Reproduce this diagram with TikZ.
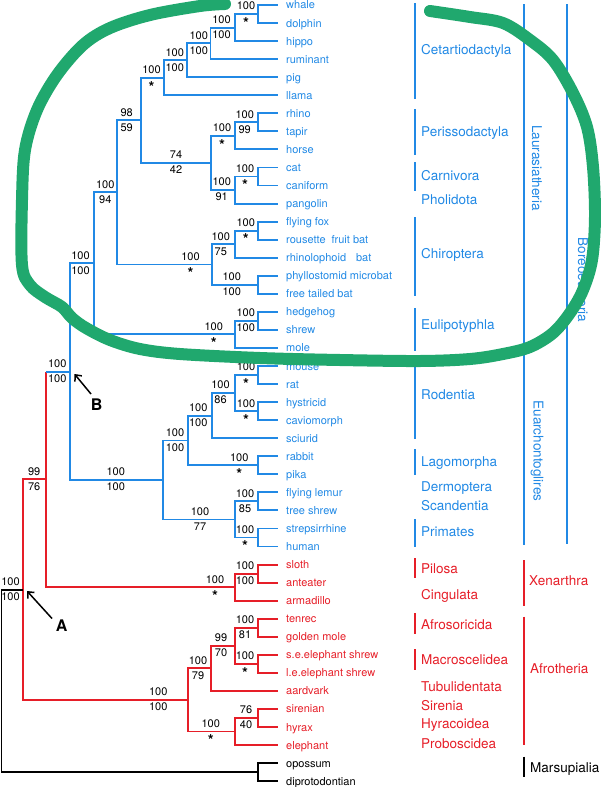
\documentclass[tikz,border=0pt]{standalone}
\usepackage{fontspec}
\setmainfont{TeX Gyre Heros}
\usetikzlibrary{arrows.meta}
\definecolor{tblue}{RGB}{33,137,229}
\definecolor{tred}{RGB}{230,30,40}
\definecolor{tgreen}{RGB}{32,168,110}
\newcommand\nlab[5]{%
  \node[num] (#1t) at (#2,#3-4.1) {#4};
  \node[num] (#1b) at (#2,#3+10.9) {#5};}
\newcommand\slab[4]{%
  \node[num] (#1t) at (#2,#3-4.1) {#4};
  \node[starlab] (#1b) at (#2,#3+14.2) {*};}
\begin{document}
\begin{tikzpicture}[x=1pt,y=-1pt,
  br/.style={line width=1.9pt},
  bar/.style={line width=1.8pt},
  leaf/.style={anchor=west,inner sep=0pt,inner xsep=8pt,font=\fontsize{11}{13}\selectfont,text height=8pt,text depth=0pt},
  num/.style={anchor=base,inner sep=0pt,font=\fontsize{11}{13}\selectfont},
  starlab/.style={anchor=base,inner sep=0pt,font=\fontsize{15}{17}\selectfont\bfseries},
  grp/.style={anchor=west,inner sep=0pt,font=\fontsize{13.5}{15}\selectfont,text height=9.5pt,text depth=0pt},
  rgrp/.style={anchor=center,inner sep=0pt,rotate=-90,font=\fontsize{13.5}{15}\selectfont},
  letter/.style={anchor=center,inner sep=0pt,font=\fontsize{16}{18}\selectfont\bfseries},
  ptr/.style={line width=1.5pt,-{Straight Barb[length=5pt,width=9pt]}}]
\useasboundingbox (0,0) rectangle (600,787);

% ---------- leaves ----------
\begin{scope}[every node/.style={leaf,text=tblue}]
\node (whale) at (278,5.0) {whale};
\node (dolphin) at (278,23.05) {dolphin};
\node (hippo) at (278,41.1) {hippo};
\node (ruminant) at (278,59.15) {ruminant};
\node (pig) at (278,77.2) {pig};
\node (llama) at (278,95.25) {llama};
\node (rhino) at (278,113.3) {rhino};
\node (tapir) at (278,131.35) {tapir};
\node (horse) at (278,149.4) {horse};
\node (cat) at (278,167.45) {cat};
\node (caniform) at (278,185.5) {caniform};
\node (pangolin) at (278,203.55) {pangolin};
\node (ffox) at (278,221.6) {flying fox};
\node (rousette) at (278,239.65) {rousette\hspace{6pt}fruit bat};
\node (rhinolo) at (278,257.7) {rhinolophoid\hspace{10pt}bat};
\node (phyllo) at (278,275.75) {phyllostomid microbat};
\node (freet) at (278,293.8) {free tailed bat};
\node (hedgehog) at (278,311.85) {hedgehog};
\node (shrew) at (278,329.9) {shrew};
\node (mole) at (278,347.95) {mole};
\node (mouse) at (278,366.0) {mouse};
\node (rat) at (278,384.05) {rat};
\node (hystricid) at (278,402.1) {hystricid};
\node (cavio) at (278,420.15) {caviomorph};
\node (sciurid) at (278,438.2) {sciurid};
\node (rabbit) at (278,456.25) {rabbit};
\node (pika) at (278,474.3) {pika};
\node (flemur) at (278,492.35) {flying lemur};
\node (tshrew) at (278,510.4) {tree shrew};
\node (streps) at (278,528.45) {strepsirrhine};
\node (human) at (278,546.5) {human};
\end{scope}
\begin{scope}[every node/.style={leaf,text=tred}]
\node (sloth) at (278,564.55) {sloth};
\node (anteater) at (278,582.6) {anteater};
\node (armadillo) at (278,600.65) {armadillo};
\node (tenrec) at (278,618.7) {tenrec};
\node (gmole) at (278,636.75) {golden mole};
\node (seshrew) at (278,654.8) {s.e.elephant shrew};
\node (leshrew) at (278,672.85) {l.e.elephant shrew};
\node (aardvark) at (278,690.9) {aardvark};
\node (sirenian) at (278,708.95) {sirenian};
\node (hyrax) at (278,727.0) {hyrax};
\node (elephant) at (278,745.05) {elephant};
\end{scope}
\begin{scope}[every node/.style={leaf,text=black}]
\node (opossum) at (278,763.1) {opossum};
\node (diproto) at (278,781.15) {diprotodontian};
\end{scope}

% ---------- internal nodes ----------
\coordinate (n1) at (258,14.0);
\coordinate (n2) at (235,27.55);
\coordinate (n3) at (210.5,43.35);
\coordinate (n4) at (187.3,60.3);
\coordinate (n5) at (164,77.8);
\coordinate (n6) at (258,122.3);
\coordinate (n7) at (235,135.85);
\coordinate (n8) at (258,176.5);
\coordinate (n9) at (235,190.0);
\coordinate (n10) at (210.7,162.9);
\coordinate (n11) at (140.7,120.35);
\coordinate (n12) at (258,230.6);
\coordinate (n13) at (235,244.15);
\coordinate (n14) at (258,284.8);
\coordinate (n15) at (211.7,264.5);
\coordinate (n16) at (116.7,192.4);
\coordinate (n17) at (258,320.9);
\coordinate (n18) at (235,334.4);
\coordinate (n19) at (94,263.4);
\coordinate (n20) at (258,375.0);
\coordinate (n21) at (258,411.1);
\coordinate (n22) at (235,393.05);
\coordinate (n23) at (211.7,415.6);
\coordinate (n24) at (258,465.3);
\coordinate (n25) at (188.3,440.45);
\coordinate (n26) at (258,501.4);
\coordinate (n27) at (258,537.5);
\coordinate (n28) at (235,519.45);
\coordinate (n29) at (163.3,479.95);
\coordinate (n30) at (70,371.7);
\coordinate (n31) at (258,573.6);
\coordinate (n32) at (235,587.1);
\coordinate (n33) at (46,479.4);
\coordinate (n34) at (258,627.7);
\coordinate (n35) at (258,663.8);
\coordinate (n36) at (235,645.75);
\coordinate (n37) at (210.7,668.3);
\coordinate (n38) at (258,718.0);
\coordinate (n39) at (235,731.5);
\coordinate (n40) at (187.7,699.9);
\coordinate (n41) at (22.7,589.65);
\coordinate (n42) at (258,772.1);
\coordinate (root) at (1.5,680.9);

% ---------- blue branches ----------
\begin{scope}[br,tblue]
\draw (n1) |- (whale.west); \draw (n1) |- (dolphin.west);
\draw (n2) |- (n1); \draw (n2) |- (hippo.west);
\draw (n3) |- (n2); \draw (n3) |- (ruminant.west);
\draw (n4) |- (n3); \draw (n4) |- (pig.west);
\draw (n5) |- (n4); \draw (n5) |- (llama.west);
\draw (n6) |- (rhino.west); \draw (n6) |- (tapir.west);
\draw (n7) |- (n6); \draw (n7) |- (horse.west);
\draw (n8) |- (cat.west); \draw (n8) |- (caniform.west);
\draw (n9) |- (n8); \draw (n9) |- (pangolin.west);
\draw (n10) |- (n7); \draw (n10) |- (n9);
\draw (n11) |- (n5); \draw (n11) |- (n10);
\draw (n12) |- (ffox.west); \draw (n12) |- (rousette.west);
\draw (n13) |- (n12); \draw (n13) |- (rhinolo.west);
\draw (n14) |- (phyllo.west); \draw (n14) |- (freet.west);
\draw (n15) |- (n13); \draw (n15) |- (n14);
\draw (n16) |- (n11); \draw (n16) |- (n15);
\draw (n17) |- (hedgehog.west); \draw (n17) |- (shrew.west);
\draw (n18) |- (n17); \draw (n18) |- (mole.west);
\draw (n19) |- (n16); \draw (n19) |- (n18);
\draw (n20) |- (mouse.west); \draw (n20) |- (rat.west);
\draw (n21) |- (hystricid.west); \draw (n21) |- (cavio.west);
\draw (n22) |- (n20); \draw (n22) |- (n21);
\draw (n23) |- (n22); \draw (n23) |- (sciurid.west);
\draw (n24) |- (rabbit.west); \draw (n24) |- (pika.west);
\draw (n25) |- (n23); \draw (n25) |- (n24);
\draw (n26) |- (flemur.west); \draw (n26) |- (tshrew.west);
\draw (n27) |- (streps.west); \draw (n27) |- (human.west);
\draw (n28) |- (n26); \draw (n28) |- (n27);
\draw (n29) |- (n25); \draw (n29) |- (n28);
\draw (n30) |- (n19); \draw (n30) |- (n29);
\end{scope}

% ---------- red branches ----------
\begin{scope}[br,tred]
\draw (n31) |- (sloth.west); \draw (n31) |- (anteater.west);
\draw (n32) |- (n31); \draw (n32) |- (armadillo.west);
\draw (n33) -- (n33 |- n30);
\draw (n33) |- (n32);
\draw (n34) |- (tenrec.west); \draw (n34) |- (gmole.west);
\draw (n35) |- (seshrew.west); \draw (n35) |- (leshrew.west);
\draw (n36) |- (n34); \draw (n36) |- (n35);
\draw (n37) |- (n36); \draw (n37) |- (aardvark.west);
\draw (n38) |- (sirenian.west); \draw (n38) |- (hyrax.west);
\draw (n39) |- (n38); \draw (n39) |- (elephant.west);
\draw (n40) |- (n37); \draw (n40) |- (n39);
\draw (n41) |- (n33); \draw (n41) |- (n40);
\end{scope}
\draw[br,tblue] (n33 |- n30) -- (n30);

% ---------- black branches ----------
\begin{scope}[br,black]
\draw (root) |- (n41); \draw (root) |- (n42);
\draw (n42) |- (opossum.west); \draw (n42) |- (diproto.west);
\end{scope}

% ---------- support values ----------
\slab{n1}{246}{14.0}{100}
\nlab{n2}{221.5}{27.55}{100}{100}
\nlab{n3}{198.7}{43.35}{100}{100}
\nlab{n4}{174.7}{60.3}{100}{100}
\slab{n5}{151.5}{77.8}{100}
\nlab{n6}{244.7}{122.3}{100}{99}
\slab{n7}{222}{135.85}{100}
\slab{n8}{245}{176.5}{100}
\nlab{n9}{221.7}{190.0}{100}{91}
\nlab{n10}{176}{162.9}{74}{42}
\nlab{n11}{126.7}{120.35}{98}{59}
\slab{n12}{245.8}{230.6}{100}
\nlab{n13}{220.8}{244.15}{100}{75}
\nlab{n14}{231.7}{284.8}{100}{100}
\slab{n15}{190.5}{264.5}{100}
\nlab{n16}{105.3}{192.4}{100}{94}
\nlab{n17}{245.8}{320.9}{100}{100}
\slab{n18}{213.8}{334.4}{100}
\nlab{n19}{80.5}{263.4}{100}{100}
\slab{n20}{246}{375.0}{100}
\slab{n21}{246}{411.1}{100}
\nlab{n22}{220.5}{393.05}{100}{86}
\nlab{n23}{198.3}{415.6}{100}{100}
\slab{n24}{239.2}{465.3}{100}
\nlab{n25}{175}{440.45}{100}{100}
\nlab{n26}{245}{501.4}{100}{85}
\slab{n27}{245}{537.5}{100}
\nlab{n28}{200}{519.45}{100}{77}
\nlab{n29}{115.8}{479.95}{100}{100}
\nlab{n30}{57.2}{371.7}{100}{100}
\nlab{n31}{245}{573.6}{100}{100}
\slab{n32}{215}{587.1}{100}
\nlab{n33}{34.2}{479.4}{99}{76}
\nlab{n34}{245}{627.7}{100}{81}
\slab{n35}{245}{663.8}{100}
\nlab{n36}{221}{645.75}{99}{70}
\nlab{n37}{198}{668.3}{100}{79}
\nlab{n38}{246}{718.0}{76}{40}
\slab{n39}{210.8}{731.5}{100}
\nlab{n40}{158.3}{699.9}{100}{100}
\nlab{n41}{10.5}{589.65}{100}{100}

% ---------- pointers A and B ----------
\node[letter] (labB) at (96.7,405) {B};
\coordinate (Btail) at (91,394);
\coordinate (Btip) at (74.5,374);
\draw[ptr] (Btail) -- (Btip);
\node[letter] (labA) at (61.7,626) {A};
\coordinate (Atail) at (52,618.5);
\coordinate (Atip) at (27,591);
\draw[ptr] (Atail) -- (Atip);

% ---------- clade bars and names ----------
\begin{scope}[bar,tblue]
\draw (415,3.3) -- (415,99.3);
\draw (415,109.3) -- (415,155);
\draw (415,162.3) -- (415,190.7);
\draw (415,217.3) -- (415,295.7);
\draw (415,308.3) -- (415,350.7);
\draw (415,361.7) -- (415,439.3);
\draw (415,449.3) -- (415,475);
\draw (415,519.3) -- (415,547.3);
\draw (524,4) -- (524,545);
\draw (567,4) -- (567,544);
\end{scope}
\begin{scope}[bar,tred]
\draw (415,558.3) -- (415,578.3);
\draw (415,613.3) -- (415,634);
\draw (415,649.3) -- (415,670);
\draw (524,560) -- (524,606);
\draw (524,616.7) -- (524,745);
\end{scope}
\draw[bar,black] (524,756.7) -- (524,777.3);

\begin{scope}[every node/.style={grp,text=tblue}]
\node (gCet) at (421,50) {Cetartiodactyla};
\node (gPer) at (421,131.7) {Perissodactyla};
\node (gCar) at (421,175.7) {Carnivora};
\node (gPho) at (421,199.3) {Pholidota};
\node (gChi) at (421,253.3) {Chiroptera};
\node (gEul) at (421,325) {Eulipotyphla};
\node (gRod) at (421,395) {Rodentia};
\node (gLag) at (421,461.7) {Lagomorpha};
\node (gDer) at (421,486.7) {Dermoptera};
\node (gSca) at (421,505.7) {Scandentia};
\node (gPri) at (421,531.7) {Primates};
\end{scope}
\begin{scope}[every node/.style={grp,text=tred}]
\node (gPil) at (421,569) {Pilosa};
\node (gCin) at (421,595) {Cingulata};
\node (gAfs) at (421,625) {Afrosoricida};
\node (gMac) at (421,660) {Macroscelidea};
\node (gTub) at (421,686.7) {Tubulidentata};
\node (gSir) at (421,705.7) {Sirenia};
\node (gHyr) at (421,724) {Hyracoidea};
\node (gPro) at (421,743.3) {Proboscidea};
\node (gXen) at (529,580.7) {Xenarthra};
\node (gAfr) at (530,668.3) {Afrotheria};
\end{scope}
\node[grp,text=black] (gMar) at (530,767.7) {Marsupialia};
\node[rgrp,text=tblue] (gLau) at (537,168) {Laurasiatheria};
\node[rgrp,text=tblue] (gEua) at (537,451) {Euarchontoglires};
\node[rgrp,text=tblue] (gBor) at (583,280) {Boreoeutheria};

% ---------- green hand-drawn loop ----------
\draw[tgreen,line width=12pt,line cap=round,line join=round]
  plot[smooth,tension=0.55] coordinates {
  (225,4) (200,6) (150,15) (110,28) (83,45) (57,75) (37,110) (25,150)
  (22,200) (22,265) (30,285) (45,297) (62,307) (72,318) (86,328)
  (110,340) (140,349) (180,354) (260,358) (340,360) (420,361) (470,359)
  (503,354) (530,347) (553,333) (570,313) (583,290) (592,260) (595,217)
  (593,167) (587,127) (573,93) (553,60) (530,40) (503,23) (470,17) (430,11)};
\end{tikzpicture}
\end{document}
